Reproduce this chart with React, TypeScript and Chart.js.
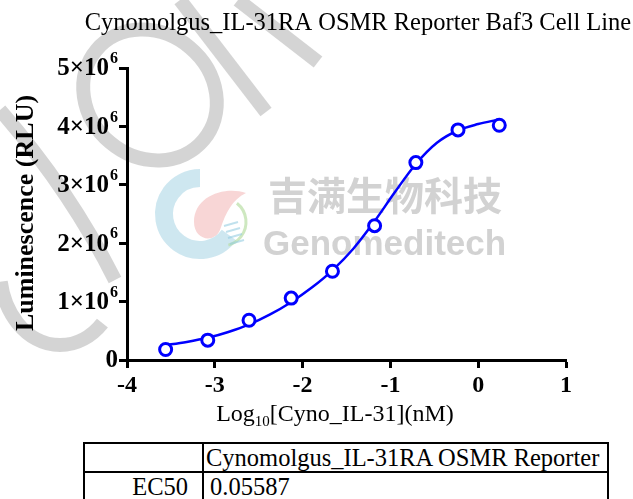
import React, { useEffect, useRef } from "react";
import { Chart, registerables } from "chart.js";

Chart.register(...registerables);

const chartTitle = "Cynomolgus_IL-31RA OSMR Reporter Baf3 Cell Line";
const yAxisTitle = "Luminescence (RLU)";
const xAxisTitleParts = ["Log", "10", "[Cyno_IL-31](nM)"];

// measured points: log10 concentration (nM) vs luminescence (RLU)
const logConc = [-3.56, -3.08, -2.61, -2.13, -1.66, -1.18, -0.71, -0.23, 0.24];
const rlu = [0.18e6, 0.34e6, 0.68e6, 1.06e6, 1.52e6, 2.3e6, 3.38e6, 3.94e6, 4.02e6];

// fitted curve
const fitX = [-3.586, -3.32, -3.081, -2.846, -2.607, -2.37, -2.132, -1.895, -1.657, -1.42, -1.183, -0.946, -0.708, -0.47, -0.233, 0.0, 0.241];
const fitY = [0.25e6, 0.31e6, 0.38e6, 0.48e6, 0.61e6, 0.78e6, 0.99e6, 1.24e6, 1.54e6, 1.91e6, 2.37e6, 2.88e6, 3.36e6, 3.72e6, 3.93e6, 4.04e6, 4.12e6];

const yTickValues = [0, 1e6, 2e6, 3e6, 4e6, 5e6];
const yTickMantissa = ["0", "1×10", "2×10", "3×10", "4×10", "5×10"];
const yTickExponent = ["", "6", "6", "6", "6", "6"];
const xTickValues = [-4, -3, -2, -1, 0, 1];

const tableHeader = "Cynomolgus_IL-31RA OSMR Reporter";
const tableRowLabel = "EC50";
const tableRowValue = "0.05587";

const wmCn = "吉满生物科技";
const wmEn = "Genomeditech";

const SERIF = "'Liberation Serif', 'Times New Roman', serif";

const overlayPlugin = {
  id: "overlay",
  beforeDraw(chart: any) {
    const ctx = chart.ctx as CanvasRenderingContext2D;
    ctx.save();
    ctx.fillStyle = "#fff";
    ctx.fillRect(0, 0, chart.width, chart.height);
    // watermark strokes
    ctx.strokeStyle = "rgba(205,205,205,0.85)";
    ctx.lineWidth = 14;
    ctx.lineCap = "butt";
    ctx.beginPath();
    ctx.ellipse(150, 95, 70, 62, 0.7, 0, Math.PI * 2);
    ctx.stroke();
    ctx.beginPath();
    ctx.moveTo(238, 0);
    ctx.lineTo(318, 62);
    ctx.stroke();
    ctx.beginPath();
    ctx.moveTo(180, 0);
    ctx.lineTo(266, 112);
    ctx.stroke();
    ctx.beginPath();
    ctx.moveTo(0, 110);
    ctx.quadraticCurveTo(70, 190, 115, 280);
    ctx.stroke();
    ctx.beginPath();
    ctx.ellipse(60, 270, 60, 75, 0, Math.PI * 0.25, Math.PI * 0.95);
    ctx.stroke();
    // logo: blue C, pink drop, green arc, DNA stripes
    ctx.lineWidth = 18;
    ctx.strokeStyle = "rgba(165,212,228,0.55)";
    ctx.beginPath();
    ctx.arc(200, 214, 36, Math.PI * 0.2, Math.PI * 1.5);
    ctx.stroke();
    ctx.fillStyle = "rgba(240,165,165,0.45)";
    ctx.beginPath();
    ctx.moveTo(246, 193);
    ctx.bezierCurveTo(225, 186, 194, 196, 194, 222);
    ctx.bezierCurveTo(194, 240, 214, 244, 220, 230);
    ctx.bezierCurveTo(226, 212, 232, 200, 246, 193);
    ctx.fill();
    ctx.strokeStyle = "rgba(185,222,165,0.7)";
    ctx.lineWidth = 3;
    ctx.beginPath();
    ctx.arc(222, 222, 24, -0.9, 1.3);
    ctx.stroke();
    ctx.strokeStyle = "rgba(150,205,225,0.6)";
    ctx.lineWidth = 2;
    for (let k = 0; k < 4; k++) {
      ctx.beginPath();
      ctx.moveTo(224 + k * 2, 226 + k * 6);
      ctx.lineTo(238 + k * 2, 222 + k * 6);
      ctx.stroke();
    }
    // watermark text
    ctx.fillStyle = "rgba(205,205,205,0.9)";
    ctx.textBaseline = "alphabetic";
    ctx.textAlign = "left";
    ctx.font = "bold 39px 'Noto Sans CJK SC'";
    ctx.fillText(wmCn, 268, 210);
    ctx.font = "bold 35px 'Liberation Sans', Arial, sans-serif";
    ctx.fillText(wmEn, 263, 255);
    ctx.restore();
  },
  afterDraw(chart: any) {
    const ctx = chart.ctx as CanvasRenderingContext2D;
    const ys = chart.scales.y;
    ctx.save();
    ctx.fillStyle = "#000";
    // title
    ctx.textAlign = "center";
    ctx.textBaseline = "alphabetic";
    ctx.font = `24.5px ${SERIF}`;
    ctx.fillText(chartTitle, 358, 30);
    // y tick labels
    yTickValues.forEach((v, i) => {
      const py = ys.getPixelForValue(v);
      const right = 118;
      ctx.textAlign = "right";
      ctx.textBaseline = "middle";
      if (yTickExponent[i]) {
        ctx.font = `bold 16px ${SERIF}`;
        const ew = ctx.measureText(yTickExponent[i]).width;
        ctx.fillText(yTickExponent[i], right, py - 9);
        ctx.font = `bold 25px ${SERIF}`;
        ctx.fillText(yTickMantissa[i], right - ew - 1, py + 1);
      } else {
        ctx.font = `bold 25px ${SERIF}`;
        ctx.fillText(yTickMantissa[i], right, py + 1);
      }
    });
    // y title
    ctx.save();
    ctx.translate(26, 213);
    ctx.rotate(-Math.PI / 2);
    ctx.textAlign = "center";
    ctx.textBaseline = "middle";
    ctx.font = `bold 26px ${SERIF}`;
    ctx.fillText(yAxisTitle, 0, 0);
    ctx.restore();
    // x title with subscript
    const big = `24px ${SERIF}`;
    const small = `15px ${SERIF}`;
    ctx.textAlign = "left";
    ctx.textBaseline = "alphabetic";
    ctx.font = big;
    const w0 = ctx.measureText(xAxisTitleParts[0]).width;
    const w2 = ctx.measureText(xAxisTitleParts[2]).width;
    ctx.font = small;
    const w1 = ctx.measureText(xAxisTitleParts[1]).width;
    let x = 335 - (w0 + w1 + w2) / 2;
    const base = 421;
    ctx.font = big;
    ctx.fillText(xAxisTitleParts[0], x, base);
    x += w0;
    ctx.font = small;
    ctx.fillText(xAxisTitleParts[1], x, base + 5);
    x += w1;
    ctx.font = big;
    ctx.fillText(xAxisTitleParts[2], x, base);
    ctx.restore();
  },
};

export default function App() {
  const ref = useRef<HTMLCanvasElement | null>(null);
  useEffect(() => {
    if (!ref.current) return;
    const chart = new Chart(ref.current, {
      type: "scatter",
      data: {
        datasets: [
          {
            label: "points",
            data: logConc.map((x, i) => ({ x, y: rlu[i] })),
            showLine: false,
            pointStyle: "circle",
            pointRadius: 6,
            pointBorderWidth: 3,
            borderColor: "#0000ff",
            backgroundColor: "#ffffff",
            order: 0,
          },
          {
            label: "fit",
            data: fitX.map((x, i) => ({ x, y: fitY[i] })),
            showLine: true,
            pointRadius: 0,
            borderColor: "#0000ff",
            borderWidth: 2.5,
            cubicInterpolationMode: "monotone",
            order: 1,
          },
        ],
      },
      options: {
        responsive: false,
        animation: false,
        events: [],
        layout: { padding: { left: 0, right: 67, top: 68, bottom: 0 } },
        plugins: { legend: { display: false }, title: { display: false }, tooltip: { enabled: false } },
        scales: {
          x: {
            type: "linear",
            min: -4,
            max: 1,
            afterFit: (s: any) => { s.height = 430 - 360; },
            afterBuildTicks: (s: any) => { s.ticks = xTickValues.map((v) => ({ value: v })); },
            border: { display: true, color: "#000", width: 3 },
            grid: { display: true, drawOnChartArea: false, drawTicks: true, tickLength: 8, tickWidth: 3, tickColor: "#000" },
            ticks: {
              color: "#000",
              font: { family: "'Liberation Serif', serif", size: 24, weight: "bold" },
              padding: 3,
              maxRotation: 0,
            },
          },
          y: {
            type: "linear",
            min: 0,
            max: 5e6,
            afterFit: (s: any) => { s.width = 127; },
            afterBuildTicks: (s: any) => { s.ticks = yTickValues.map((v) => ({ value: v })); },
            border: { display: true, color: "#000", width: 3 },
            grid: { display: true, drawOnChartArea: false, drawTicks: true, tickLength: 8, tickWidth: 3, tickColor: "#000" },
            ticks: { display: false },
          },
        },
      },
      plugins: [overlayPlugin],
    } as any);
    return () => chart.destroy();
  }, []);

  const cell: React.CSSProperties = {
    border: "2px solid #000",
    padding: "0 4px",
    fontFamily: SERIF,
    fontSize: "24.5px",
    lineHeight: "27px",
    height: 27,
    whiteSpace: "nowrap",
    verticalAlign: "top",
  };

  return (
    <div style={{ position: "fixed", left: 0, top: 0, width: 633, height: 499, overflow: "hidden", background: "#fff" }}>
      <canvas ref={ref} width={633} height={430} style={{ position: "absolute", left: 0, top: 0, width: 633, height: 430 }} />
      <table
        style={{ position: "absolute", left: 83, top: 442, borderCollapse: "collapse", tableLayout: "fixed", width: 524 }}
      >
        <colgroup>
          <col style={{ width: 119 }} />
          <col style={{ width: 405 }} />
        </colgroup>
        <tbody>
          <tr>
            <td style={cell}></td>
            <td style={{ ...cell, textAlign: "left", paddingLeft: 2 }}>{tableHeader}</td>
          </tr>
          <tr>
            <td style={{ ...cell, height: 40, textAlign: "right", paddingRight: 14 }}>{tableRowLabel}</td>
            <td style={{ ...cell, height: 40, textAlign: "left", paddingLeft: 6 }}>{tableRowValue}</td>
          </tr>
        </tbody>
      </table>
    </div>
  );
}
